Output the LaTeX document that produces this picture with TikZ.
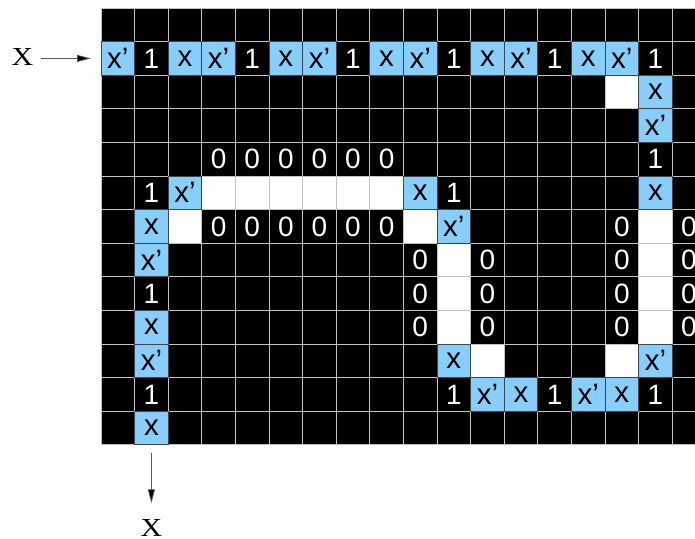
\documentclass[tikz,border=0pt]{standalone}
\usepackage{fontspec}
\setmainfont{Liberation Sans}
\newfontfamily\serifx{Liberation Serif}
\usetikzlibrary{arrows.meta}
\definecolor{cellblue}{RGB}{135,206,250}
\definecolor{gridgray}{RGB}{195,195,195}
\definecolor{blueedge}{RGB}{60,70,80}
\begin{document}
\begin{tikzpicture}[x=1pt,y=-1pt,
  cellbase/.style={minimum width=33.6pt,minimum height=33.6pt,inner sep=0pt,outer sep=0pt,font=\fontsize{28}{28}\selectfont},
  bluecell/.style={cellbase,fill=cellblue,text=black,font=\fontsize{29.5}{29.5}\selectfont},
  whitecell/.style={cellbase,fill=white},
  darkcell/.style={cellbase,text=white},
  gridline/.style={draw=gridgray,line width=0.9pt},
  bluerim/.style={draw=blueedge,line width=0.7pt},
  lbl/.style={inner sep=0pt,font=\serifx\fontsize{26}{26}\selectfont},
  arr/.style={draw=black!65,line width=0.8pt,-{Triangle[length=14pt,width=7pt,fill=black]}}]
\useasboundingbox (0,0) rectangle (695,538);
\clip (0,0) rectangle (695,538);
\fill[black] (101,8) rectangle (705.8,444.8);
\def\bluelist{0/1/x’,2/1/x,3/1/x’,5/1/x,6/1/x’,8/1/x,9/1/x’,11/1/x,12/1/x’,14/1/x,15/1/x’,
  16/2/x,16/3/x’,2/5/x’,9/5/x,16/5/x,1/6/x,10/6/x’,1/7/x’,1/9/x,1/10/x’,10/10/x,16/10/x’,
  11/11/x’,12/11/x,14/11/x’,15/11/x,1/12/x}
\foreach \c/\r/\t in \bluelist
  \node[bluecell] (n-\c-\r) at ({101+33.6*(\c+0.5)},{8+33.6*(\r+0.5)}) {\t};
\foreach \c/\r/\t in {1/1/1,4/1/1,7/1/1,10/1/1,13/1/1,16/1/1,
  3/4/0,4/4/0,5/4/0,6/4/0,7/4/0,8/4/0,16/4/1,
  1/5/1,10/5/1,
  3/6/0,4/6/0,5/6/0,6/6/0,7/6/0,8/6/0,15/6/0,17/6/0,
  9/7/0,11/7/0,15/7/0,17/7/0,
  1/8/1,9/8/0,11/8/0,15/8/0,17/8/0,
  9/9/0,11/9/0,15/9/0,17/9/0,
  1/11/1,10/11/1,13/11/1,16/11/1}
  \node[darkcell] (n-\c-\r) at ({101+33.6*(\c+0.5)},{8+33.6*(\r+0.5)}) {\t};
\foreach \c/\r in {15/2,3/5,4/5,5/5,6/5,7/5,8/5,2/6,9/6,16/6,16/7,16/8,16/9,
  10/7,10/8,10/9,11/10,15/10}
  \node[whitecell] (n-\c-\r) at ({101+33.6*(\c+0.5)},{8+33.6*(\r+0.5)}) {};
\foreach \i in {0,...,18}
  \draw[gridline] ({101+33.6*\i},8) -- ({101+33.6*\i},444.8);
\foreach \j in {0,...,13}
  \draw[gridline] (101,{8+33.6*\j}) -- (705.8,{8+33.6*\j});
\foreach \c/\r/\t in \bluelist
  \draw[bluerim] (n-\c-\r.south west) rectangle (n-\c-\r.north east);
\node[lbl] (xl) at (22.3,57.2) {\scalebox{1.15}[1]{X}};
\node[lbl] (xb) at (151.4,528) {\scalebox{1.15}[1]{X}};
\draw[arr, shorten <=8pt, shorten >=10pt] (xl.east |- n-0-1.west) -- (n-0-1.west);
\draw[arr, shorten <=8pt, shorten >=16pt] (n-1-12.south) -- (xb.north);
\end{tikzpicture}
\end{document}
